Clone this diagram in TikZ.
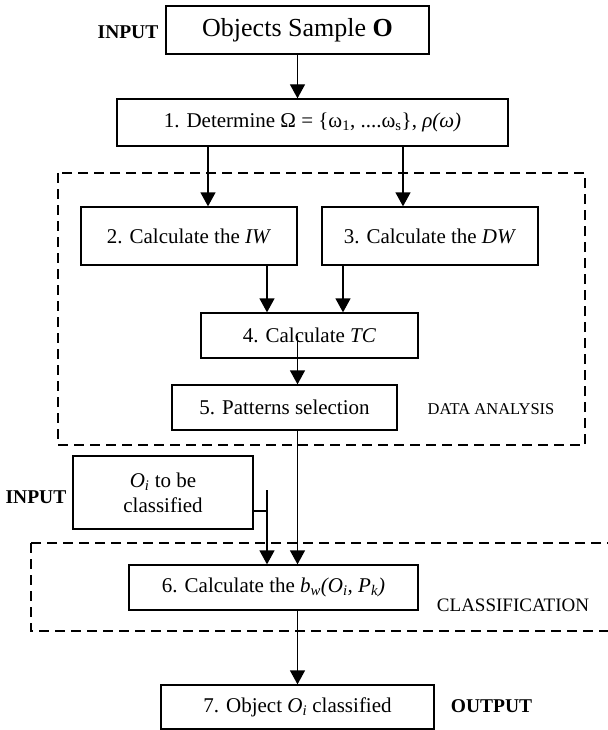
\documentclass[tikz,border=0pt]{standalone}
\usepackage{fontspec}
\setmainfont{Liberation Serif}
\usetikzlibrary{arrows.meta}

\begin{document}
\begin{tikzpicture}[x=1pt,y=-1pt,
        stepbox/.style={draw,line width=1.3pt,inner sep=0pt,align=center,font=\fontsize{21}{25}\selectfont},
        arr/.style={line width=1.3pt,-{Triangle[length=14pt,width=15pt]}},
        zone/.style={line width=1.4pt,dash pattern=on 10pt off 6pt},
        tag/.style={font=\fontsize{16.5}{19}\selectfont},
        iotag/.style={font=\bfseries\fontsize{19.5}{22}\selectfont}]
        \useasboundingbox (0,0) rectangle (607,730);

        % dashed zones
        \draw[zone] (58,173) rectangle (585,445);
        \draw[zone] (31,543) rectangle (620,631);

        \node[stepbox,minimum width=263pt,minimum height=48pt,font=\fontsize{26}{30}\selectfont] (b0) at (297.5,30) {Objects Sample \textbf{O}};
        \node[stepbox,minimum width=391pt,minimum height=47pt] (b1) at (312.5,122.5) {1. Determine Ω = \{ω\textsubscript{1}, ....ω\textsubscript{s}\}, \textit{ρ(ω)}};
        \node[stepbox,minimum width=216pt,minimum height=58pt] (b2) at (189,236) {2. Calculate the \textit{IW}};
        \node[stepbox,minimum width=216pt,minimum height=58pt] (b3) at (430,236) {3. Calculate the \textit{DW}};
        \node[stepbox,minimum width=217pt,minimum height=45pt] (b4) at (309.5,335.5) {4. Calculate \textit{TC}};
        \node[stepbox,minimum width=225pt,minimum height=45pt] (b5) at (284.5,407.5) {5. Patterns selection};
        \node[stepbox,minimum width=180pt,minimum height=73pt] (oi) at (163,492.5) {\textit{O\textsubscript{i}} to be\\classified};
        \node[stepbox,minimum width=289pt,minimum height=45pt] (b6) at (273.5,587.5) {6. Calculate the \textit{b\textsubscript{w}(O\textsubscript{i}, P\textsubscript{k})}};
        \node[stepbox,minimum width=273pt,minimum height=44pt] (b7) at (297.5,707) {7. Object \textit{O\textsubscript{i}} classified};

        \node[iotag] (in1) at (128,32) {INPUT};
        \node[iotag] (in2) at (36,497) {INPUT};
        \node[iotag] (out) at (491.5,706) {OUTPUT};
        \node[tag] (da) at (491,409) {DATA ANALYSIS};
        \node[tag,font=\fontsize{19}{22}\selectfont] (cl) at (513,605) {CLASSIFICATION};

        \draw[arr] (b0.south) -- (b0.south |- b1.north);
        \draw[arr] (b1.south -| 208,0) -- (b2.north -| 208,0);
        \draw[arr] (b1.south -| 403,0) -- (b3.north -| 403,0);
        \draw[arr] (b2.south -| 267,0) -- (b4.north -| 267,0);
        \draw[arr] (b3.south -| 343,0) -- (b4.north -| 343,0);
        \draw[arr] (b4.center -| 297.5,0) -- (b5.north -| 297.5,0);
        \draw[arr] (b5.south -| 297.5,0) -- (b6.north -| 297.5,0);

        \coordinate (jn) at (267,511);
        \coordinate (jtop) at (267,490);
        \draw[line width=1.3pt] (oi.east |- jn) -- (jn);
        \draw[arr] (jtop) -- (b6.north -| jtop);
        \draw[arr] (b6.south -| b7.north) -- (b7.north);
    \end{tikzpicture}
\end{document}
